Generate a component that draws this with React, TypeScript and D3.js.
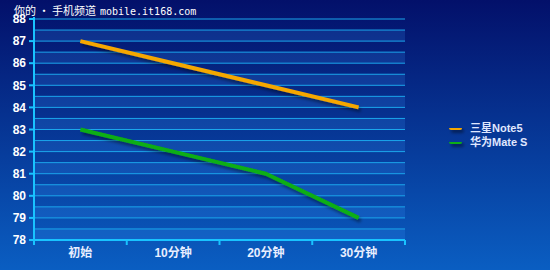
import React from "react";
import * as d3 from "d3";

const categories = ["初始", "10分钟", "20分钟", "30分钟"];
const samsung = [87, 86, 85, 84];
const huawei = [83, 82, 81, 79];
const yTicks = [78, 79, 80, 81, 82, 83, 84, 85, 86, 87, 88];
const seriesNames = ["三星Note5", "华为Mate S"];
const seriesColors = ["#f5a700", "#0fae12"];

export default function App() {
  const width = 550;
  const height = 270;
  const margin = { top: 19, right: 145, bottom: 30, left: 34 };
  const innerW = width - margin.left - margin.right;
  const innerH = height - margin.top - margin.bottom;

  const x = d3.scaleBand().domain(categories).range([0, innerW]);
  const y = d3.scaleLinear().domain([78, 88]).range([innerH, 0]);

  const bandStarts = d3.range(78, 88, 1);
  const gridVals = d3.range(78.5, 88.01, 0.5);

  const line = d3
    .line<number>()
    .x((_, i) => (x(categories[i]) ?? 0) + x.bandwidth() / 2)
    .y((d) => y(d));

  const series = [samsung, huawei];

  return (
    <svg
      width={width}
      height={height}
      style={{ position: "absolute", left: 0, top: 0 }}
      fontFamily="'Liberation Sans', Arial, 'Noto Sans CJK SC', sans-serif"
    >
      <defs>
        <linearGradient id="bg" x1="0" y1="0" x2="0" y2="1">
          <stop offset="0%" stopColor="#03106a" />
          <stop offset="100%" stopColor="#0a5ec2" />
        </linearGradient>
        <filter id="shadow" filterUnits="userSpaceOnUse" x="0" y="0" width={width} height={height}>
          <feDropShadow dx="2" dy="3" stdDeviation="1.5" floodColor="#000" floodOpacity="0.4" />
        </filter>
      </defs>
      <rect width={width} height={height} fill="url(#bg)" />

      <g transform={`translate(${margin.left},${margin.top})`}>
        {bandStarts.map((v) => (
          <rect
            key={v}
            x={0}
            y={y(v + 0.5)}
            width={innerW}
            height={y(v) - y(v + 0.5)}
            fill="#3c9cff"
            opacity={0.18}
          />
        ))}
        {gridVals.map((v) => (
          <line key={v} x1={0} x2={innerW} y1={y(v)} y2={y(v)} stroke="#1ba6ec" strokeWidth={1} />
        ))}

        {series.map((s, i) => (
          <path
            key={i}
            d={line(s) ?? ""}
            fill="none"
            stroke={seriesColors[i]}
            strokeWidth={4}
            strokeLinejoin="round"
            filter="url(#shadow)"
          />
        ))}

        {/* axes */}
        <line x1={0} x2={0} y1={-2} y2={innerH} stroke="#19c3ff" strokeWidth={2} />
        <line x1={0} x2={innerW} y1={innerH} y2={innerH} stroke="#19c3ff" strokeWidth={2} />
        {yTicks.map((t) => (
          <g key={t} transform={`translate(0,${y(t)})`}>
            <line x1={-5} x2={0} stroke="#19c3ff" strokeWidth={2} />
            <text x={-8} dy="0.35em" textAnchor="end" fontSize={12} fontWeight="bold" fill="#ffffff">
              {t}
            </text>
          </g>
        ))}
        {d3.range(0, categories.length + 1).map((i) => (
          <line
            key={i}
            x1={i * x.step()}
            x2={i * x.step()}
            y1={innerH}
            y2={innerH + 5}
            stroke="#19c3ff"
            strokeWidth={2}
          />
        ))}
        {categories.map((c) => (
          <text
            key={c}
            x={(x(c) ?? 0) + x.bandwidth() / 2}
            y={innerH + 17}
            textAnchor="middle"
            fontSize={12}
            fontWeight="bold"
            fill="#e8eeff"
          >
            {c}
          </text>
        ))}
      </g>

      <text x={14} y={15} fontSize={11} fill="#ffffff" fontFamily="'Noto Sans CJK SC', sans-serif">
        你的 • 手机频道
        <tspan fontFamily="'DejaVu Sans Mono', monospace" fontSize={10} dx={4}>
          mobile.it168.com
        </tspan>
      </text>

      <g transform="translate(449,128)">
        {seriesNames.map((n, i) => (
          <g key={n} transform={`translate(0,${i * 14})`}>
            <rect x={0} y={-2} width={13} height={4} rx={2} fill={seriesColors[i]} filter="url(#shadow)" />
            <text x={21} dy="0.35em" fontSize={11} fontWeight="bold" fill="#e0e8ff">
              {n}
            </text>
          </g>
        ))}
      </g>
    </svg>
  );
}
